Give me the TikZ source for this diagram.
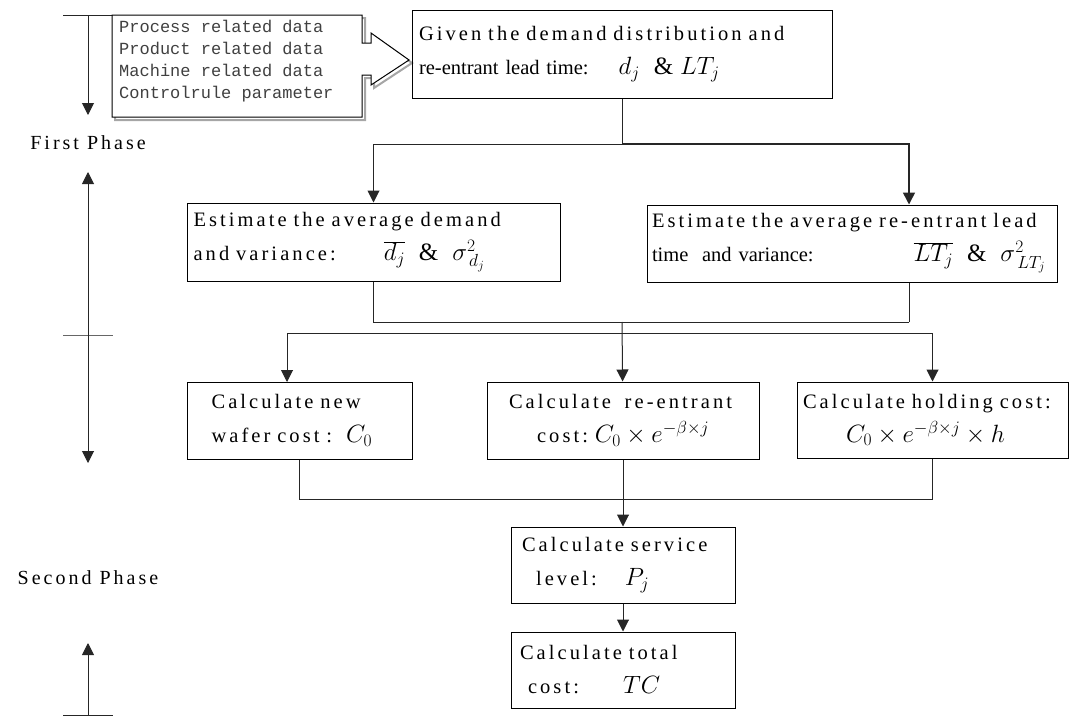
\RequirePackage{fix-cm}
\documentclass[tikz,border=0pt]{standalone}
\usepackage{fontspec}
\setmainfont{Liberation Serif}[LetterSpace=15]
\newfontfamily\datafont{Liberation Mono}
\usetikzlibrary{arrows.meta}
\newcommand{\formula}[1]{{\fontsize{25}{30}\selectfont$#1$}}
\newcommand{\tight}{\addfontfeature{LetterSpace=0}}
\tikzstyle{flowbox} = [
    rectangle,
    draw=black,
    line width=1pt,
    inner sep=0pt,
    align=left,
    font=\fontsize{20.5}{34}\selectfont
]
\tikzstyle{phase} = [
    inner sep=0pt,
    font=\fontsize{20}{22}\selectfont
]
\tikzstyle{link} = [line width=1pt, black!85]
\tikzstyle{arrow} = [link, -{Triangle[length=12pt,width=12pt]}]

\begin{document}
\begin{tikzpicture}[x=1pt, y=-1pt]
\useasboundingbox (0,0) rectangle (1078,720);

% phase scale on the left
\coordinate (tick1) at (88,15);
\coordinate (tick2) at (88,335);
\coordinate (tick3) at (88,715);
\coordinate (tip1) at (88,115);
\coordinate (tip2) at (88,172);
\coordinate (tip3) at (88,463);
\coordinate (tip4) at (88,643);
\draw [link] (63,15) -- (113,15);
\draw [link, black!60] (63,335) -- (113,335);
\draw [link] (63,715) -- (113,715);
\node (firstlbl) [phase] at (88,143) {First Phase};
\node (secondlbl) [phase] at (88,578) {Second Phase};
\draw [arrow] (tick1) -- (tip1);
\draw [arrow] (tick2) -- (tip2);
\draw [arrow] (tick2) -- (tip3);
\draw [arrow] (tick3) -- (tip4);

% input data with block arrow
\draw [gray!70, line width=2pt, shift={(3,3)}]
    (112,15) -- (362,15) -- (362,43) -- (371,43) -- (371,33) -- (409,60)
    -- (371,85) -- (371,75) -- (362,75) -- (362,117) -- (112,117) -- cycle;
\draw [fill=white, line width=1pt]
    (112,15) -- (362,15) -- (362,43) -- (371,43) -- (371,33) -- (409,60)
    -- (371,85) -- (371,75) -- (362,75) -- (362,117) -- (112,117) -- cycle;
\node (inputs) [anchor=north west, inner sep=0pt, align=left, black!75,
    font=\datafont\fontsize{17}{22}\selectfont] at (119,20)
{Process related data\\Product related data\\Machine related data\\Controlrule parameter};

% first phase
\node (given) [flowbox, minimum width=420pt, minimum height=88pt, text width=406pt]
    at (622,54)
{Given the demand distribution and\\{\tight re-entrant lead time:}\hspace{30pt}\formula{d_j\;\;\&\;LT_j}};

\node (estdem) [flowbox, minimum width=373pt, minimum height=78pt, text width=360pt]
    at (373.5,242)
{Estimate the average demand\\and variance:\hspace{48pt}\formula{\overline{d_j}\;\;\&\;\;\sigma^{2}_{\,d_j}}};

\node (estlt) [flowbox, minimum width=410pt, minimum height=77pt, text width=400pt]
    at (852,243.5)
{Estimate the average re-entrant lead\\{\tight time\ \ and variance:}\hspace{100pt}\formula{\overline{LT_j}\;\;\&\;\;\sigma^{2}_{\,LT_j}}};

% second phase
\node (calcnew) [flowbox, minimum width=225pt, minimum height=77pt, text width=200pt]
    at (299.5,420.5)
{\hspace*{12pt}Calculate new\\\hspace*{12pt}wafer cost :\hspace{14pt}\formula{C_0}};

\node (calcre) [flowbox, minimum width=272pt, minimum height=77pt, text width=256pt]
    at (623,420.5)
{\hspace*{14pt}Calculate\ \ re-entrant\\\hspace*{42pt}cost:\ \formula{C_0\times e^{-\beta\times j}}};

\node (calchold) [flowbox, minimum width=271pt, minimum height=76pt, text width=259pt]
    at (932.5,420)
{Calculate holding cost:\\\hspace*{43pt}\formula{C_0\times e^{-\beta\times j}\times h}};

\node (service) [flowbox, minimum width=224pt, minimum height=76pt, text width=206pt]
    at (623,565)
{\hspace*{2pt}Calculate service\\\hspace*{16pt}level:\hspace{28pt}\formula{P_j}};

\node (total) [flowbox, minimum width=224pt, minimum height=76pt, text width=210pt]
    at (623,670)
{\hspace*{2pt}Calculate total\\\hspace*{10pt}cost:\hspace{44pt}\formula{TC}};

% connectors
\coordinate (split1) at (622,144);
\coordinate (join1) at (622,322);
\coordinate (join1r) at (909,322);
\coordinate (split2) at (622,333);
\coordinate (join2) at (623,499);

\draw [link] (given) -- (split1);
\draw [arrow] (split1) -| (estdem);
\draw [arrow, line width=1.6pt] (split1) -| (join1r |- estlt.north);

\draw [link] (estdem) |- (join1r);
\draw [link] (join1r) -- (join1r |- estlt.south);
\draw [arrow] (join1) -- (calcre);
\draw [link] (split2) -| (287,333);
\draw [arrow] (287,333) -- (287,382);
\draw [arrow] (split2) -| (calchold);

\draw [link] (calcnew) |- (join2);
\draw [link] (calchold) |- (join2);
\draw [link] (calcre) -- (join2);
\draw [arrow] (join2) -- (service);
\draw [arrow] (service) -- (total);

\end{tikzpicture}
\end{document}
